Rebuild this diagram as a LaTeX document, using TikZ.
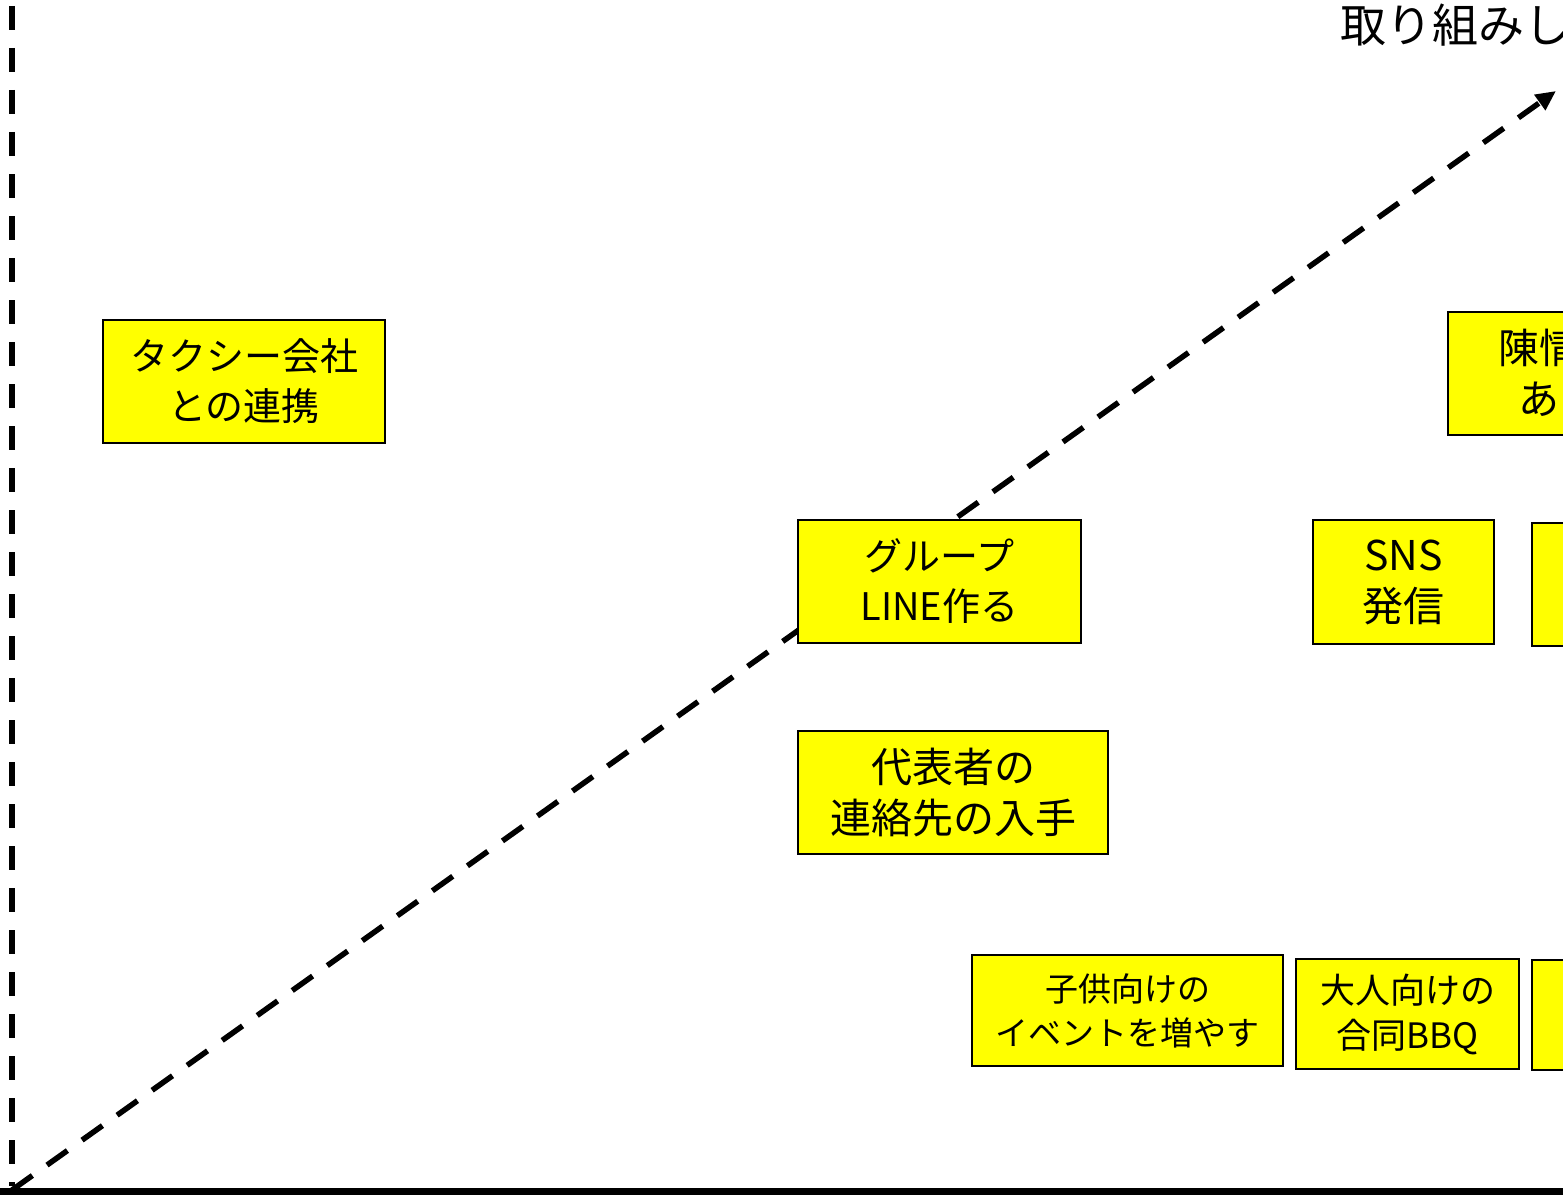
\documentclass[tikz,border=0pt]{standalone}
\usepackage{fontspec}
\newfontfamily\jp{Noto Sans CJK JP}
\usetikzlibrary{arrows.meta}
\definecolor{boxyellow}{RGB}{255,255,0}
\tikzset{
  box/.style={draw=black, line width=1.5pt, fill=boxyellow, inner sep=0pt, align=center,
    minimum width=#1},
  bigtxt/.style={font=\jp\fontsize{38}{50}\selectfont},
  midtxt/.style={font=\jp\fontsize{41}{51}\selectfont},
  smalltxt/.style={font=\jp\fontsize{33}{44}\selectfont},
  axisdash/.style={line width=6pt, dash pattern=on 24pt off 18pt},
}
\begin{document}
\begin{tikzpicture}[x=1pt,y=-1pt]
\useasboundingbox (0,0) rectangle (1563,1196);
\clip (0,0) rectangle (1563,1196);
% axes
\coordinate (vtop) at (12,0);
\coordinate (vbot) at (12,1186);
\coordinate (hl) at (0,1191);
\coordinate (hr) at (1563,1191);
\coordinate (orig) at (12,1190);
\coordinate (tip) at (1556,91);
\draw[axisdash, dash phase=36pt] (vtop) -- (vbot);
\draw[line width=7pt] (hl) -- (hr);
\draw[line width=5.5pt, dash pattern=on 25pt off 18pt,
  -{Triangle[length=20pt,width=18pt]}] (orig) -- (tip);
% label
\node[anchor=west, font=\jp\fontsize{46}{50}\selectfont, inner sep=0pt] (lbl) at (1340,25) {取り組みしやすさ};
% boxes
\node[box=282pt, minimum height=123pt, bigtxt] (taxi) at (244,381.5) {タクシー会社\\との連携};
\node[box=283pt, minimum height=123pt, bigtxt] (line) at (939.5,581.5) {グループ\\LINE作る};
\node[box=181pt, minimum height=124pt, midtxt] (sns) at (1403.5,582) {SNS\\発信};
\node[box=200pt, minimum height=123pt, bigtxt] (hidA) at (1632,584.5) {};
\node[box=264pt, minimum height=123pt, midtxt] (chin) at (1580,373.5) {陳情書を\\あげる};
\node[box=310pt, minimum height=123pt, midtxt] (rep) at (953,792.5) {代表者の\\連絡先の入手};
\node[box=311pt, minimum height=111pt, smalltxt] (kids) at (1127.5,1010.5) {子供向けの\\イベントを増やす};
\node[box=223pt, minimum height=110pt, font=\jp\fontsize{35}{45}\selectfont] (bbq) at (1407.5,1014) {大人向けの\\合同BBQ};
\node[box=200pt, minimum height=110pt, smalltxt] (hidB) at (1632,1015) {};
\end{tikzpicture}
\end{document}
